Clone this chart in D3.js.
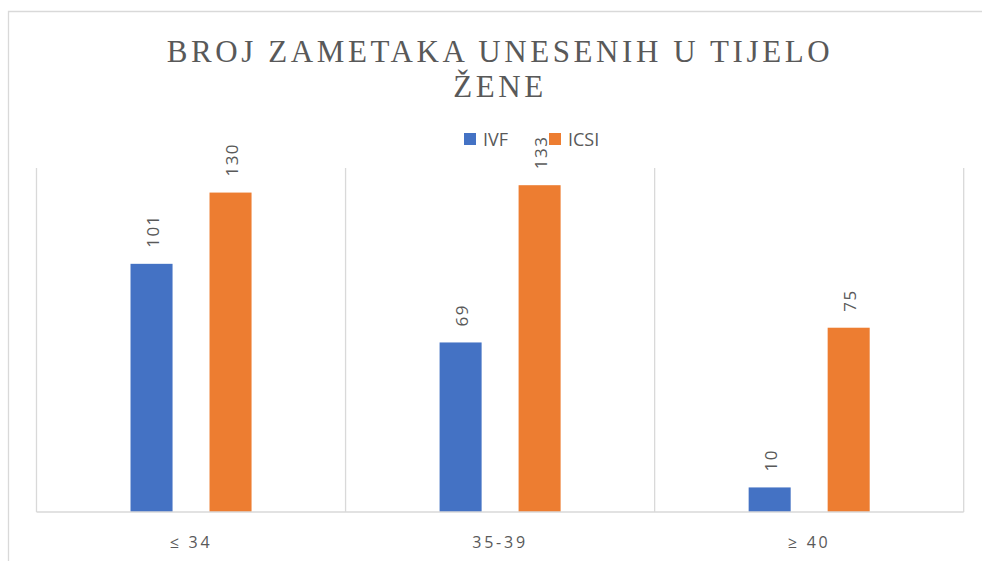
<!DOCTYPE html>
<html><head><meta charset="utf-8">
<script src="https://cdn.jsdelivr.net/npm/d3@7"></script>
<style>body{margin:0;background:#fff}svg{display:block}</style>
</head><body><svg id="c" width="982" height="561"></svg>
<script>
const categories = ["≤ 34", "35-39", "≥ 40"];
const seriesNames = ["IVF", "ICSI"];
const ivfValues = [101, 69, 10];
const icsiValues = [130, 133, 75];
const colors = ["#4472C4", "#ED7D31"];
const titleLines = ["BROJ ZAMETAKA UNESENIH U TIJELO", "ŽENE"];

const svg = d3.select("#c");
// chart frame
svg.append("path").attr("d","M8.5,561 V11.5 H982").attr("fill","none").attr("stroke","#d9d9d9").attr("stroke-width",1.3);

const pLeft = 36.5, pRight = 963.7, pTop = 168, pBottom = 512;
const x = d3.scaleBand().domain(categories).range([pLeft, pRight]).padding(0);
const x1 = d3.scaleBand().domain(seriesNames).range([0, x.bandwidth()]).paddingInner(0.468).paddingOuter(1.19);
const y = d3.scaleLinear().domain([0, 140]).range([pBottom, pTop]);

// vertical gridlines
const bounds = categories.map(c => x(c)).concat([x(categories[categories.length-1]) + x.bandwidth()]);
svg.append("g").selectAll("line").data(bounds).join("line")
  .attr("x1", d => d).attr("x2", d => d).attr("y1", pTop).attr("y2", pBottom)
  .attr("stroke", "#d9d9d9").attr("stroke-width", 1.3);

// title
svg.append("g").selectAll("text").data(titleLines).join("text")
  .attr("x", 500).attr("y", (d,i) => 62 + i*35)
  .attr("text-anchor", "middle")
  .style("font-family", "'Liberation Serif', 'Times New Roman', serif")
  .style("font-size", "31px").style("letter-spacing", "3.6px")
  .attr("fill", "#595959").text(d => d);

// legend
const legend = svg.append("g");
const legX = [464, 549];
seriesNames.forEach((s, i) => {
  legend.append("rect").attr("x", legX[i]).attr("y", 133).attr("width", 12).attr("height", 12).attr("fill", colors[i]);
  legend.append("text").attr("x", legX[i] + 19).attr("y", 146)
    .style("font-family", "'Open Sans', 'Liberation Sans', sans-serif").style("font-size", "18px")
    .attr("fill", "#595959").text(s);
});

const data = categories.map((c, i) => ({cat: c, vals: [ivfValues[i], icsiValues[i]]}));
const groups = svg.append("g").selectAll("g").data(data).join("g")
  .attr("transform", d => `translate(${x(d.cat)},0)`);
groups.selectAll("rect").data(d => d.vals.map((v, j) => ({s: seriesNames[j], v, j}))).join("rect")
  .attr("x", d => x1(d.s)).attr("width", x1.bandwidth())
  .attr("y", d => y(d.v)).attr("height", d => pBottom - y(d.v))
  .attr("fill", d => colors[d.j]);
groups.selectAll("text").data(d => d.vals.map((v, j) => ({s: seriesNames[j], v, j}))).join("text")
  .attr("transform", d => `translate(${x1(d.s) + x1.bandwidth()/2 + 7},${y(d.v) - 16}) rotate(-90)`)
  .style("font-family", "'Open Sans', 'Liberation Sans', sans-serif").style("font-size", "17px")
  .style("letter-spacing", "1.5px")
  .attr("fill", "#595959").text(d => d.v);

// baseline
svg.append("line").attr("x1", pLeft).attr("x2", pRight).attr("y1", pBottom).attr("y2", pBottom)
  .attr("stroke", "#d9d9d9").attr("stroke-width", 1.3);

// x axis labels
const xAxis = d3.axisBottom(x).tickSize(0).tickPadding(0);
const ax = svg.append("g").attr("transform", `translate(0,${pBottom})`).call(xAxis);
ax.select(".domain").remove();
ax.selectAll("text").attr("y", 36).attr("dy", 0)
  .style("font-family", "'Open Sans', 'Liberation Sans', sans-serif").style("font-size", "16px")
  .style("letter-spacing", "2.8px").attr("fill", "#595959");
</script></body></html>
